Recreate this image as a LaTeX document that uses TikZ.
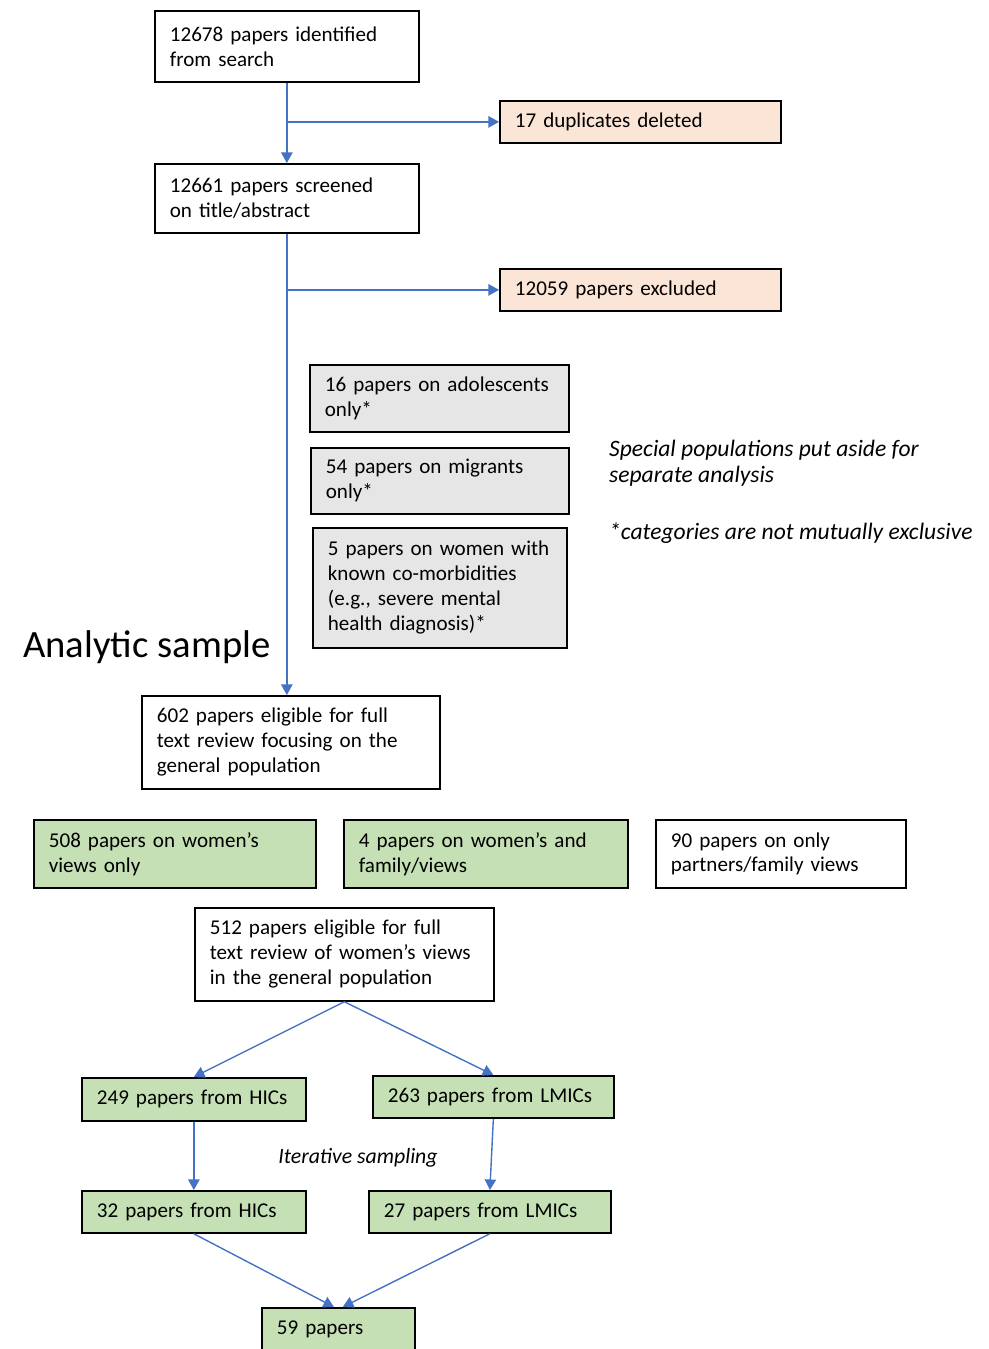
\documentclass[tikz,border=0pt]{standalone}
\usepackage{fontspec}
\setmainfont{Carlito}
\usetikzlibrary{arrows.meta}
\definecolor{peach}{HTML}{FBE5D6}
\definecolor{lightgrey}{HTML}{E7E6E6}
\definecolor{lightgreen}{HTML}{C5E0B4}
\definecolor{flowblue}{HTML}{4472C4}

\begin{document}
\begin{tikzpicture}[x=0.02cm,y=-0.02cm,
    box/.style={draw,line width=1pt,anchor=north west,align=left,inner xsep=0.3cm,
                font=\fontsize{12}{14.2}\selectfont},
    arr/.style={draw=flowblue,line width=0.8pt,-{Triangle[length=6pt,width=6.5pt]},color=flowblue},
    note/.style={anchor=west,align=left,font=\fontsize{13.4}{14.8}\selectfont\itshape}]
    \useasboundingbox (0,0) rectangle (988,1349);
    \node[box,text width=4.68cm,minimum height=1.42cm] (found) at (154,10) {12678 papers identified\\from search};
    \node[box,fill=peach,text width=5.02cm,minimum height=0.84cm] (dupl) at (499,100) {17 duplicates deleted};
    \node[box,text width=4.68cm,minimum height=1.38cm] (screen) at (154,163) {12661 papers screened\\on title/abstract};
    \node[box,fill=peach,text width=5.02cm,minimum height=0.84cm] (excl) at (499,268) {12059 papers excluded};
    \node[box,fill=lightgrey,text width=4.58cm,minimum height=1.34cm] (adol) at (309,364) {16 papers on adolescents\\only*};
    \node[box,fill=lightgrey,text width=4.56cm,minimum height=1.32cm] (migr) at (310,447) {54 papers on migrants\\only*};
    \node[box,fill=lightgrey,text width=4.48cm,minimum height=2.40cm] (comorb) at (312,527) {5 papers on women with\\known co-morbidities\\(e.g., severe mental\\health diagnosis)*};
    \node[note] (special) at (603,463) {Special populations put aside for\\separate analysis};
    \node[note] (notexcl) at (603,533) {*categories are not mutually exclusive};
    \node[anchor=west,font=\fontsize{22}{26}\selectfont] (analytic) at (17,647) {Analytic sample};
    \node[box,text width=5.36cm,minimum height=1.86cm] (general) at (141,695) {602 papers eligible for full\\text review focusing on the\\general population};
    \node[box,fill=lightgreen,text width=5.04cm,minimum height=1.36cm] (women) at (33,819) {508 papers on women’s\\views only};
    \node[box,fill=lightgreen,text width=5.08cm,minimum height=1.36cm] (family) at (343,819) {4 papers on women’s and\\family/views};
    \node[box,text width=4.40cm,minimum height=1.36cm] (partners) at (655,819) {90 papers on only\\partners/family views};
    \node[box,text width=5.38cm,minimum height=1.86cm] (womenviews) at (194,907) {512 papers eligible for full\\text review of women’s views\\in the general population};
    \node[box,fill=lightgreen,text width=3.88cm,minimum height=0.86cm] (hic) at (81,1077) {249 papers from HICs};
    \node[box,fill=lightgreen,text width=4.22cm,minimum height=0.84cm] (lmic) at (372,1075) {263 papers from LMICs};
    \node[note,anchor=center,font=\fontsize{12.4}{14}\selectfont\itshape] (iter) at (358,1158) {Iterative sampling};
    \node[box,fill=lightgreen,text width=3.88cm,minimum height=0.84cm] (hicsample) at (81,1190) {32 papers from HICs};
    \node[box,fill=lightgreen,text width=4.24cm,minimum height=0.84cm] (lmicsample) at (368,1190) {27 papers from LMICs};
    \node[box,fill=lightgreen,text width=2.46cm,minimum height=0.84cm] (final) at (261,1307) {59 papers};

    \draw[arr] (found.south) -- (screen.north);
    \draw[arr] (found.south |- dupl.west) -- (dupl.west);
    \draw[arr] (screen.south) -- (screen.south |- general.north);
    \draw[arr] (screen.south |- excl.west) -- (excl.west);
    \draw[arr] (womenviews.south) -- (hic.north);
    \draw[arr] (womenviews.south) -- (lmic.north);
    \draw[arr] (hic.south) -- (hicsample.north);
    \draw[arr] (lmic.south) -- (lmicsample.north);
    \draw[arr] (hicsample.south) -- ([xshift=-2.5pt]final.north);
    \draw[arr] (lmicsample.south) -- ([xshift=2.5pt]final.north);
\end{tikzpicture}
\end{document}
